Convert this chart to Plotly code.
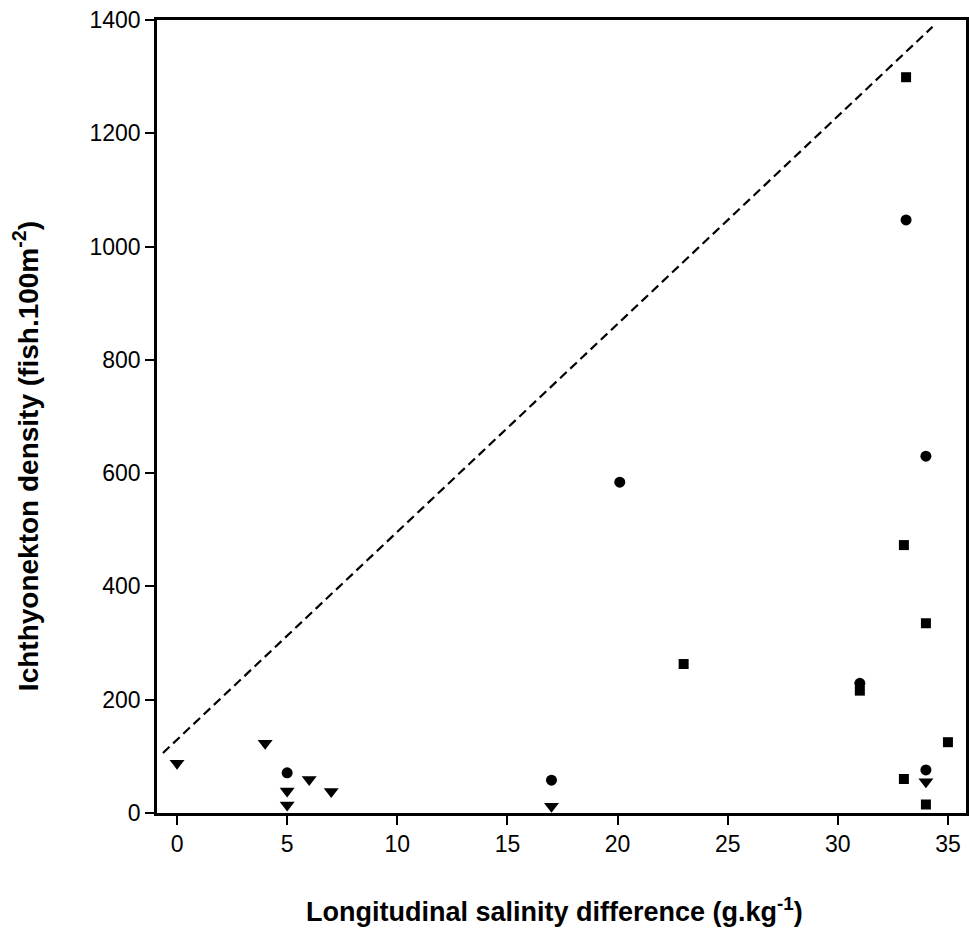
import plotly.graph_objects as go

# Data
tri_x = [0, 4, 5, 5, 6, 7, 17, 34]
tri_y = [88, 123, 39, 14, 59, 38, 12, 55]

circ_x = [5, 17, 20.1, 31, 33.1, 34, 34]
circ_y = [71, 58, 584, 229, 1047, 630, 76]

sq_x = [23, 31, 33.1, 33, 34, 35, 33, 34]
sq_y = [263, 216, 1299, 473, 335, 125, 60, 15]

line_x = [-0.64, 34.3]
line_y = [106, 1388]

x_ticks = [0, 5, 10, 15, 20, 25, 30, 35]
y_ticks = [0, 200, 400, 600, 800, 1000, 1200, 1400]

fig = go.Figure()
fig.add_trace(go.Scatter(x=line_x, y=line_y, mode="lines",
                         line=dict(color="black", width=2.2, dash="9px,5px"),
                         showlegend=False, hoverinfo="skip"))
fig.add_trace(go.Scatter(x=tri_x, y=tri_y, mode="markers",
                         marker=dict(symbol="triangle-down", size=13, color="black"),
                         showlegend=False))
fig.add_trace(go.Scatter(x=circ_x, y=circ_y, mode="markers",
                         marker=dict(symbol="circle", size=11, color="black"),
                         showlegend=False))
fig.add_trace(go.Scatter(x=sq_x, y=sq_y, mode="markers",
                         marker=dict(symbol="square", size=10, color="black"),
                         showlegend=False))

font_family = "Liberation Sans, Arial, sans-serif"

fig.update_layout(
    width=969, height=932,
    margin=dict(l=157, r=3, t=20, b=119),
    paper_bgcolor="white", plot_bgcolor="white",
    font=dict(family=font_family, color="black"),
    xaxis=dict(range=[-0.91, 35.82], tickvals=x_ticks,
               ticktext=[str(v) for v in x_ticks],
               showgrid=False, zeroline=False, automargin=False,
               showline=True, linecolor="black", linewidth=2.5, mirror=True,
               ticks="outside", ticklen=9, tickwidth=2, tickcolor="black",
               tickfont=dict(size=23, family=font_family)),
    yaxis=dict(range=[0, 1400], tickvals=y_ticks,
               ticktext=[str(v) for v in y_ticks],
               showgrid=False, zeroline=False, automargin=False,
               showline=True, linecolor="black", linewidth=2.5, mirror=True,
               ticks="outside", ticklen=9, tickwidth=2, tickcolor="black",
               tickfont=dict(size=23, family=font_family)),
    annotations=[
        dict(text="<b>Longitudinal salinity difference (g.kg<sup>-1</sup>)</b>",
             xref="paper", yref="paper", x=0.491, y=0, yshift=-97,
             xanchor="center", yanchor="middle", showarrow=False,
             font=dict(size=27, family=font_family, color="black")),
        dict(text="<b>Ichthyonekton density (fish.100m<sup>-2</sup>)</b>",
             xref="paper", yref="paper", x=0, xshift=-131, y=0.45,
             xanchor="center", yanchor="middle", textangle=-90, showarrow=False,
             font=dict(size=28, family=font_family, color="black")),
    ],
)

fig.write_html(
    "out.html",
    config={"displayModeBar": False},
    post_script="document.body.style.margin='0';document.body.style.padding='0';",
)
